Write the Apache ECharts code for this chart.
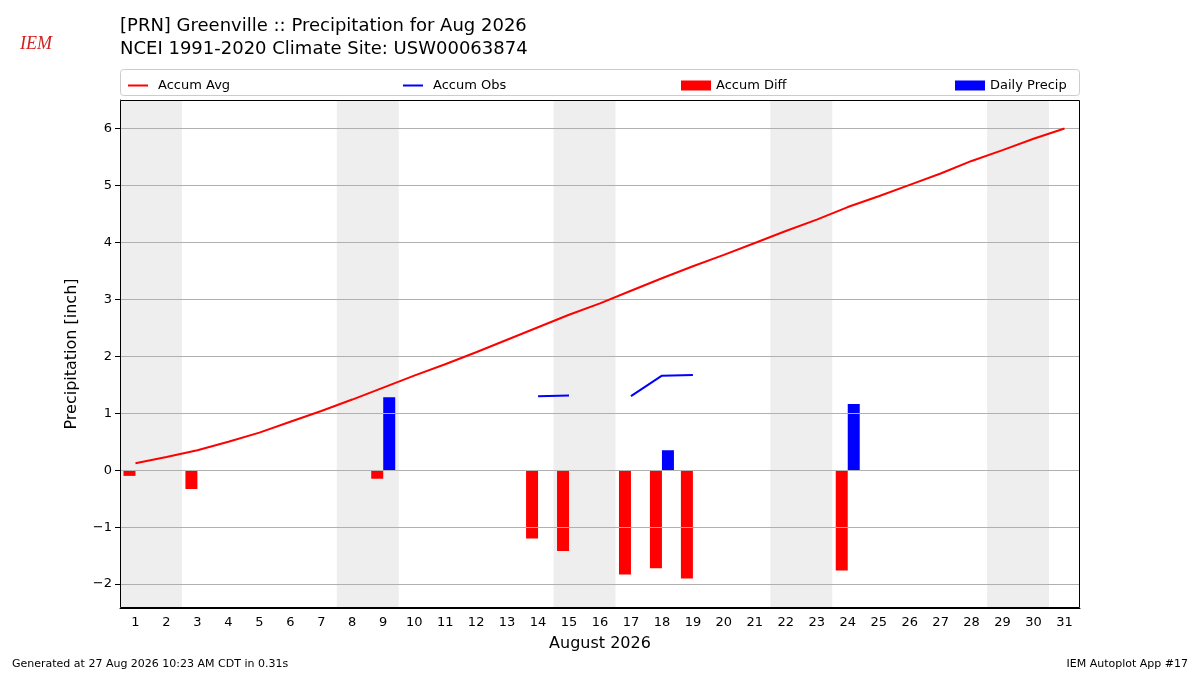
<!DOCTYPE html>
<html><head><meta charset="utf-8">
<script src="https://cdn.jsdelivr.net/npm/echarts@6/dist/echarts.min.js"></script>
<style>html,body{margin:0;padding:0;background:#fff}#c{width:1200px;height:675px}</style>
</head><body><div id="c"></div>
<script>
const days = Array.from({length:31},(_,i)=>String(i+1));
const accumAvg = [0.12,0.23,0.35,0.50,0.66,0.85,1.04,1.24,1.45,1.66,1.86,2.07,2.29,2.51,2.73,2.93,3.15,3.37,3.58,3.78,3.99,4.20,4.40,4.62,4.81,5.01,5.21,5.43,5.62,5.82,6.00];
const accumObs = [null,null,null,null,null,null,null,null,null,null,null,null,null,1.30,1.31,null,1.30,1.66,1.67,null,null,null,null,null,null,null,null,null,null,null,null];
const accumDiff = [-0.10,null,-0.33,null,null,null,null,null,-0.15,null,null,null,null,-1.20,-1.42,null,-1.83,-1.72,-1.90,null,null,null,null,-1.76,null,null,null,null,null,null,null];
const dailyPrecip = [null,null,null,null,null,null,null,null,1.28,null,null,null,null,null,null,null,null,0.35,null,null,null,null,null,1.16,null,null,null,null,null,null,null];
const weekends = [[0.5,2.5],[7.5,9.5],[14.5,16.5],[21.5,23.5],[28.5,30.5]];
const yTicks = [-2,-1,0,1,2,3,4,5,6];
const F = 'DejaVu Sans';
const ch = echarts.init(document.getElementById('c'));
const lg = (name,left,icon)=>({data:[{name,icon}],left,top:74,itemWidth:30,itemHeight:icon==='rect'?10:2,textStyle:{fontFamily:F,fontSize:13,color:'#000'},selectedMode:false});
ch.setOption({
  animation:false,
  textStyle:{fontFamily:F},
  title:[{text:'[PRN] Greenville :: Precipitation for Aug 2026\nNCEI 1991-2020 Climate Site: USW00063874',left:115,top:10,textStyle:{fontFamily:F,fontSize:18,fontWeight:'normal',lineHeight:23,color:'#000'}}],
  legend:[lg('Accum Avg',123,'path://M0,0H10V1H0Z'),lg('Accum Obs',398,'path://M0,0H10V1H0Z'),lg('Accum Diff',676,'rect'),lg('Daily Precip',950,'rect')],
  graphic:[
    {type:'rect',shape:{x:120.5,y:69.5,width:959,height:26,r:3},style:{fill:'none',stroke:'#ccc'}},
    {type:'rect',z:100,shape:{x:120.5,y:100.5,width:959,height:507},style:{fill:'none',stroke:'#000',lineWidth:1}},
    {type:'text',left:12,top:659,style:{text:'Generated at 27 Aug 2026 10:23 AM CDT in 0.31s',font:'11px DejaVu Sans',fill:'#000'}},
    {type:'text',right:12,top:659,style:{text:'IEM Autoplot App #17',font:'11px DejaVu Sans',fill:'#000'}},
    {type:'text',left:20,top:35,style:{text:'IEM',font:'italic 18px Liberation Serif',fill:'#d02020'}}
  ],
  grid:{left:120,right:120,top:100,bottom:67,show:false},
  xAxis:[{type:'category',data:days,boundaryGap:true,name:'August 2026',nameLocation:'middle',nameGap:28,nameTextStyle:{fontSize:16,color:'#000'},
    axisTick:{alignWithLabel:true,length:5,lineStyle:{color:'#000'}},axisLine:{onZero:false,lineStyle:{color:'#000'}},axisLabel:{color:'#000',fontSize:13,interval:0},splitLine:{show:false}},
    {type:'value',min:0.5,max:31.5,show:false}],
  yAxis:{type:'value',min:-2.42,max:6.5,name:'Precipitation [inch]',nameLocation:'middle',nameGap:40,nameTextStyle:{fontSize:16,color:'#000'},
    axisLine:{show:true,lineStyle:{color:'#000'}},axisTick:{show:true,length:5,customValues:yTicks,lineStyle:{color:'#000'}},
    axisLabel:{color:'#000',fontSize:13,customValues:yTicks,formatter:v=>v<0?'\u2212'+(-v):String(v)},
    splitLine:{show:false}},
  series:[
    {type:'line',xAxisIndex:1,data:[],markArea:{silent:true,itemStyle:{color:'#eeeeee'},data:weekends.map(w=>[{xAxis:w[0]},{xAxis:w[1]}])},
     markLine:{silent:true,symbol:'none',label:{show:false},lineStyle:{color:'#b0b0b0',width:1,type:'solid'},data:yTicks.map(v=>({yAxis:v}))}},
    {name:'Accum Avg',type:'line',data:accumAvg,symbol:'none',lineStyle:{color:'#ff0000',width:2},itemStyle:{color:'#ff0000'},z:5},
    {name:'Accum Obs',type:'line',data:accumObs,symbol:'none',connectNulls:false,lineStyle:{color:'#0000ff',width:2},itemStyle:{color:'#0000ff'},z:5},
    {name:'Accum Diff',type:'bar',data:accumDiff,barWidth:12,barGap:'0%',itemStyle:{color:'#ff0000'}},
    {name:'Daily Precip',type:'bar',data:dailyPrecip,barWidth:12,barGap:'0%',itemStyle:{color:'#0000ff'}}
  ]
});
</script></body></html>
